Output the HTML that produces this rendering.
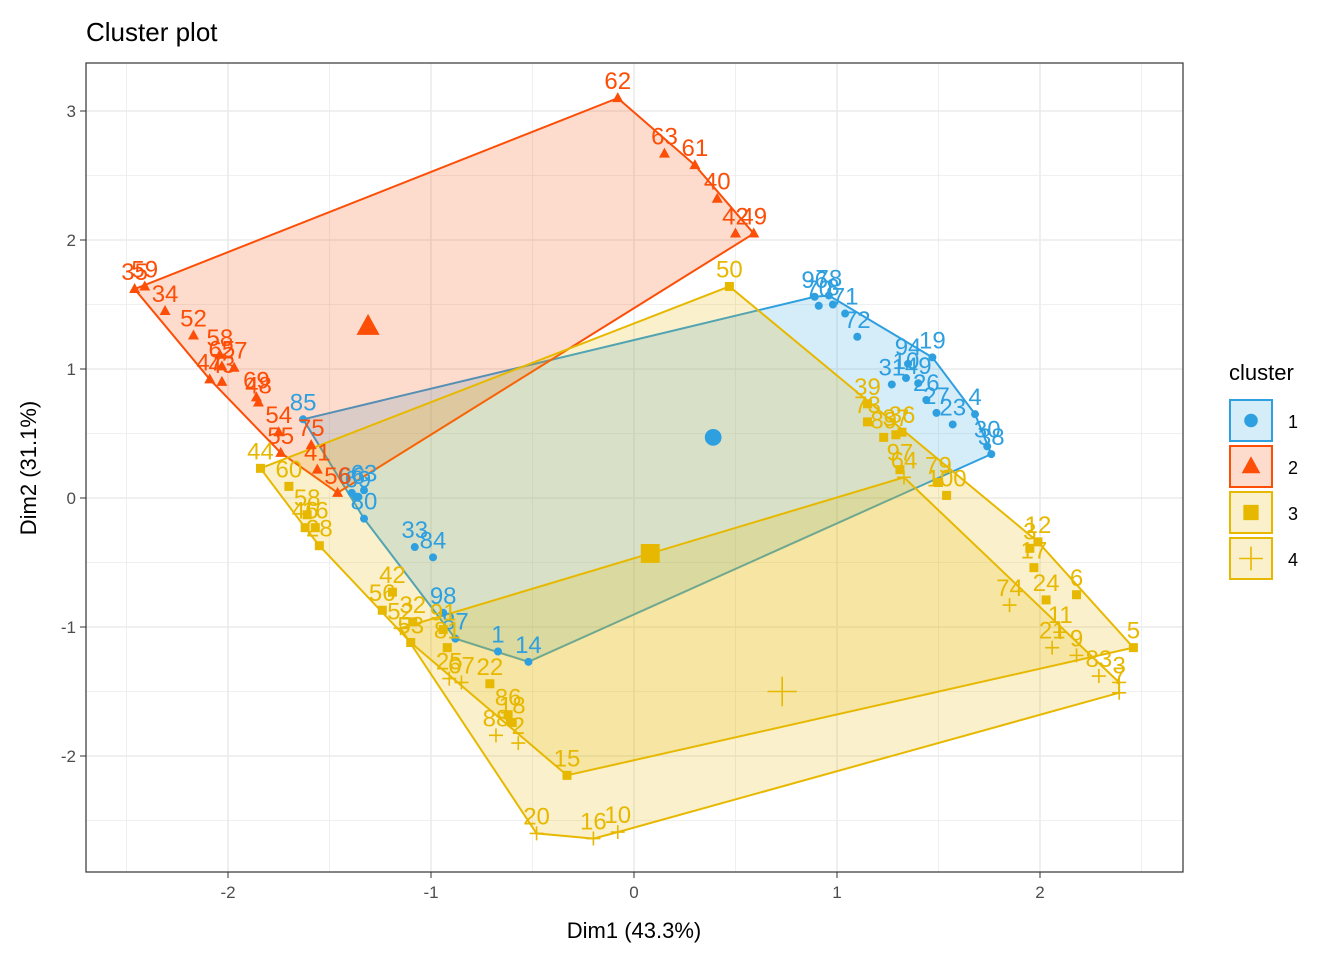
<!DOCTYPE html>
<html><head><meta charset="utf-8"><style>
body{margin:0;background:#fff;}
svg text{font-family:"Liberation Sans",sans-serif;}
</style></head><body>
<svg id="c" width="1344" height="960" xmlns="http://www.w3.org/2000/svg">
<text x="86" y="41" font-size="26" fill="#000">Cluster plot</text>
<g id="grid"></g>
<g id="plot"></g>
<rect x="86" y="63" width="1097" height="809" fill="none" stroke="#333" stroke-width="1.2"/>
<g id="axes"></g>
<text x="634" y="938" font-size="22" text-anchor="middle">Dim1 (43.3%)</text>
<text transform="translate(36,468) rotate(-90)" font-size="22" text-anchor="middle">Dim2 (31.1%)</text>
<g id="legend"></g>
</svg>
<script>
const xTicks=[-2,-1,0,1,2];
const yTicks=[-2,-1,0,1,2,3];
const clusterNames=["1","2","3","4"];
const colors=["#2E9FDF","#FC4E07","#E7B800","#E7B800"];
const c1x=[-1.63,0.89,0.91,0.96,0.98,1.10,1.04,1.47,1.35,1.34,1.27,1.40,1.44,1.49,1.57,1.68,1.74,1.76,-1.36,-1.33,-1.39,-1.33,-1.08,-0.99,-0.94,-0.88,-0.67,-0.52];
const c1y=[0.61,1.56,1.49,1.57,1.50,1.25,1.43,1.09,1.04,0.93,0.88,0.89,0.76,0.66,0.57,0.65,0.40,0.34,0.01,0.06,0.04,-0.16,-0.38,-0.46,-0.89,-1.09,-1.19,-1.27];
const c1l=["85","96","70","78","8","72","71","19","94","10","31","49","26","27","23","4","30","38","69","63","66","80","33","84","98","87","1","14"];
const c2x=[-0.08,0.15,0.30,0.41,0.50,0.59,-2.46,-2.41,-2.31,-2.17,-2.04,-2.09,-2.03,-1.97,-2.03,-1.86,-1.85,-1.75,-1.59,-1.56,-1.46,-1.74];
const c2y=[3.10,2.67,2.58,2.32,2.05,2.05,1.62,1.64,1.45,1.26,1.11,0.92,1.02,1.01,0.90,0.78,0.74,0.51,0.41,0.22,0.04,0.35];
const c2l=["62","63","61","40","42","49","35","59","34","52","58","47","65","27","43","69","48","54","75","41","56","55"];
const c3x=[0.47,1.15,1.15,1.23,1.29,1.32,1.31,1.50,1.54,-1.84,-1.70,-1.61,-1.62,-1.57,-1.55,-1.24,-1.19,-1.10,-1.09,-0.94,-0.92,-0.71,-0.62,-0.60,-0.33,1.95,1.99,1.97,2.03,2.18,2.46];
const c3y=[1.64,0.73,0.59,0.47,0.49,0.51,0.22,0.12,0.02,0.23,0.09,-0.13,-0.23,-0.23,-0.37,-0.87,-0.73,-1.12,-0.96,-1.02,-1.16,-1.44,-1.68,-1.74,-2.15,-0.39,-0.34,-0.54,-0.79,-0.75,-1.16];
const c3l=["50","39","73","89","37","36","97","79","100","44","60","58","46","16","28","56","42","53","32","91","81","22","86","18","15","3","12","17","24","6","5"];
const c4x=[-1.15,-0.91,-0.85,-0.68,-0.57,-0.48,-0.20,-0.08,1.33,1.85,2.06,2.10,2.18,2.29,2.39,2.39];
const c4y=[-1.01,-1.40,-1.43,-1.84,-1.90,-2.60,-2.64,-2.59,0.16,-0.83,-1.16,-1.04,-1.22,-1.38,-1.43,-1.51];
const c4l=["52","25","67","88","2","20","16","10","64","74","21","11","9","83","3","7"];
const centerX=[0.39,-1.31,0.08,0.73];
const centerY=[0.47,1.33,-0.43,-1.50];

const X=v=>634+203*v, Y=v=>498-129*v;
const NS="http://www.w3.org/2000/svg";
function mk(tag,attrs,parent){const e=document.createElementNS(NS,tag);for(const k in attrs)e.setAttribute(k,attrs[k]);parent.appendChild(e);return e;}
const grid=document.getElementById('grid'),plot=document.getElementById('plot'),axes=document.getElementById('axes'),leg=document.getElementById('legend');
for(let v=-2.5;v<=2.5;v+=0.5){const line=mk('line',{x1:X(v),x2:X(v),y1:63,y2:872,stroke:'#ebebeb','stroke-width':Number.isInteger(v)?1.6:0.8},grid);

}
for(let v=-2.5;v<=3;v+=0.5){if(Y(v)<63||Y(v)>872)continue;const line=mk('line',{x1:86,x2:1183,y1:Y(v),y2:Y(v),stroke:'#ebebeb','stroke-width':Number.isInteger(v)?1.6:0.8},grid);

}
xTicks.forEach(v=>{mk('line',{x1:X(v),x2:X(v),y1:872,y2:878,stroke:'#333'},axes);const t=mk('text',{x:X(v),y:898,'font-size':17,'text-anchor':'middle',fill:'#4d4d4d'},axes);t.textContent=v;

});
yTicks.forEach(v=>{mk('line',{x1:80,x2:86,y1:Y(v),y2:Y(v),stroke:'#333'},axes);const t=mk('text',{x:76,y:Y(v)+6,'font-size':17,'text-anchor':'end',fill:'#4d4d4d'},axes);t.textContent=v;

});
function hull(pts){pts=pts.slice().sort((a,b)=>a[0]-b[0]||a[1]-b[1]);const cr=(o,a,b)=>(a[0]-o[0])*(b[1]-o[1])-(a[1]-o[1])*(b[0]-o[0]);const lo=[],up=[];
for(const p of pts){while(lo.length>=2&&cr(lo[lo.length-2],lo[lo.length-1],p)<=0)lo.pop();lo.push(p);}
for(const p of pts.slice().reverse()){while(up.length>=2&&cr(up[up.length-2],up[up.length-1],p)<=0)up.pop();up.push(p);}
up.pop();lo.pop();return lo.concat(up);}
const clusters=[[c1x,c1y,c1l],[c2x,c2y,c2l],[c3x,c3y,c3l],[c4x,c4y,c4l]];
clusters.forEach((c,i)=>{const pts=c[0].map((x,j)=>[X(x),Y(c[1][j])]);const h=hull(pts);
const p=mk('polygon',{points:h.map(q=>q.join(',')).join(' '),fill:colors[i],'fill-opacity':0.2,stroke:colors[i],'stroke-width':2},plot);

});
function marker(i,x,y,s,parent){let e;
if(i===0)e=mk('circle',{cx:x,cy:y,r:4*s,fill:colors[i]},parent);
else if(i===1)e=mk('polygon',{points:`${x},${y-6*s} ${x-5.5*s},${y+4*s} ${x+5.5*s},${y+4*s}`,fill:colors[i]},parent);
else if(i===2)e=mk('rect',{x:x-4.5*s,y:y-4.5*s,width:9*s,height:9*s,fill:colors[i]},parent);
else e=mk('path',{d:`M${x-7*s},${y}H${x+7*s}M${x},${y-7*s}V${y+7*s}`,stroke:colors[i],'stroke-width':1.6,fill:'none'},parent);
return e;}
clusters.forEach((c,i)=>{c[0].forEach((x,j)=>{const px=X(x),py=Y(c[1][j]);
const m=marker(i,px,py,1,plot);


const t=mk('text',{x:px,y:py-9,'font-size':24,'text-anchor':'middle',fill:colors[i]},plot);t.textContent=c[2][j];

});});
centerX.forEach((x,i)=>{const m=marker(i,X(x),Y(centerY[i]),2.1,plot);

});
const lt=mk('text',{x:1229,y:380,'font-size':22},leg);lt.textContent='cluster';


clusterNames.forEach((n,i)=>{const y0=400+i*46;
const g=mk('g',{},leg);


mk('rect',{x:1230,y:y0,width:42,height:41,fill:colors[i],'fill-opacity':0.2,stroke:colors[i],'stroke-width':2},g);
marker(i,1251,y0+20.5,1.7,g);
const t=mk('text',{x:1288,y:y0+28,'font-size':18},g);t.textContent=n;});
</script>
</body></html>
